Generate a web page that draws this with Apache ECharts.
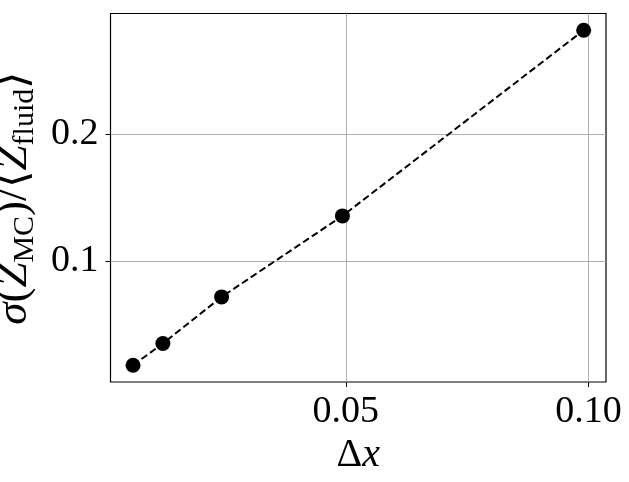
<!DOCTYPE html>
<html>
<head>
<meta charset="utf-8">
<script src="https://cdn.jsdelivr.net/npm/echarts@6/dist/echarts.min.js"></script>
<style>html,body{margin:0;padding:0;background:#fff}#c{width:629px;height:482px}</style>
</head>
<body>
<div id="c"></div>
<script>
const dxValues = [0.00615, 0.0123, 0.0244, 0.0493, 0.0990];
const sigmaValues = [0.0181, 0.0352, 0.0719, 0.1357, 0.2819];
const xTicks = [0.05, 0.10];
const xTickLabels = ['0.05', '0.10'];
const yTicks = [0.1, 0.2];
const yTickLabels = ['0.1', '0.2'];

const FONT = 'Liberation Serif';
const chart = echarts.init(document.getElementById('c'), null, {renderer: 'canvas'});
const pts = dxValues.map((x, i) => [x, sigmaValues[i]]);
chart.setOption({
  animation: false,
  backgroundColor: '#fff',
  grid: {left: 110.5, right: 23, top: 13.5, bottom: 100, show: true, borderColor: '#000', borderWidth: 1.2,
    containLabel: false, outerBoundsMode: 'none'},
  xAxis: {
    type: 'value', min: 0.00151, max: 0.1036,
    axisLine: {show: false},
    axisTick: {show: true, inside: false, length: 5, customValues: xTicks, lineStyle: {color: '#000', width: 1}},
    splitLine: {show: true, customValues: xTicks, lineStyle: {color: '#b0b0b0', width: 1}},
    axisLabel: {customValues: xTicks, formatter: v => xTickLabels[xTicks.findIndex(t => Math.abs(t - v) < 1e-9)] || '',
      fontFamily: FONT, fontSize: 38, color: '#000', margin: 11},
    name: '{d|Δ}{i|x}', nameLocation: 'middle', nameGap: 49,
    nameTextStyle: {rich: {d: {fontFamily: FONT, fontSize: 40, color: '#000'}, i: {fontFamily: FONT, fontStyle: 'italic', fontSize: 40, color: '#000'}}}
  },
  yAxis: {
    type: 'value', min: 0.0049, max: 0.2951,
    axisLine: {show: false},
    axisTick: {show: true, inside: false, length: 5, customValues: yTicks, lineStyle: {color: '#000', width: 1}},
    splitLine: {show: true, customValues: yTicks, lineStyle: {color: '#b0b0b0', width: 1}},
    axisLabel: {customValues: yTicks, formatter: v => yTickLabels[yTicks.findIndex(t => Math.abs(t - v) < 1e-9)] || '',
      fontFamily: FONT, fontSize: 38, color: '#000', margin: 12},
    name: '{i|σ}{n|(}{i|Z}{s|MC}{n|)/⟨}{i|Z}{s|fluid}{n|⟩}', nameLocation: 'middle', nameGap: 55, nameRotate: 90,
    nameTextStyle: {rich: {
      n: {fontFamily: FONT, fontSize: 45, color: '#000', lineHeight: 52},
      i: {fontFamily: FONT, fontStyle: 'italic', fontSize: 45, color: '#000', lineHeight: 52},
      s: {fontFamily: FONT, fontSize: 30, color: '#000', lineHeight: 26, verticalAlign: 'bottom'}
    }}
  },
  series: [{
    type: 'line', data: pts, symbol: 'circle', symbolSize: 15,
    itemStyle: {color: '#000'},
    lineStyle: {color: '#000', width: 2, type: [7, 3.5]}
  }]
});
</script>
</body>
</html>
